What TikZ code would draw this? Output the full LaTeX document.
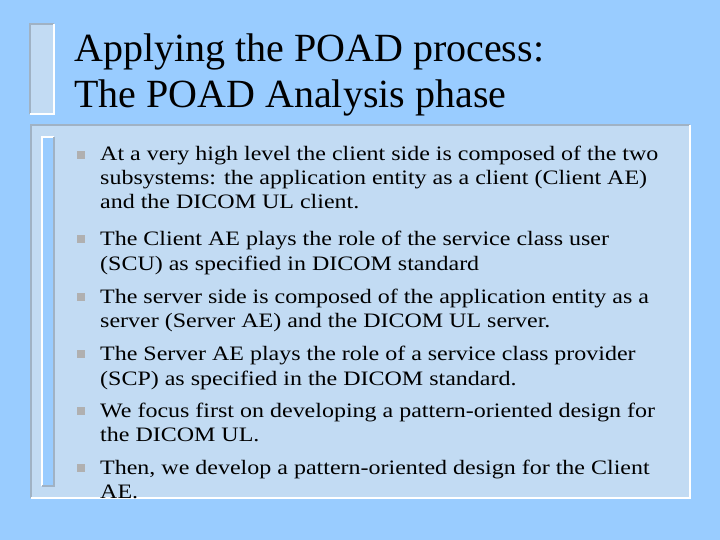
\documentclass[tikz,border=0pt]{standalone}
\usepackage{fontspec}
\setmainfont{Liberation Serif}
\definecolor{bg}{RGB}{153,204,255}
\definecolor{boxc}{RGB}{194,219,243}
\definecolor{edge}{RGB}{160,178,196}
\definecolor{bul}{RGB}{176,176,176}
\newcommand{\bodyline}[1]{\scalebox{1.17}[1]{#1}}
\begin{document}
\begin{tikzpicture}[x=1pt,y=-1pt,
  tl/.style={anchor=base west,inner sep=0pt,font=\fontsize{40}{46}\selectfont},
  bl/.style={anchor=base west,inner sep=0pt,font=\fontsize{20.5}{23}\selectfont},
  bu/.style={fill=bul,minimum size=8pt,inner sep=0pt}]
\fill[bg] (0,0) rectangle (720,540);
\useasboundingbox (0,0) rectangle (720,540);
% title bar
\fill[boxc] (30,24) rectangle (54,114);
\draw[edge,line width=2pt] (30,114) -- (30,24) -- (54,24);
\draw[white,line width=2pt] (54,24) -- (54,114) -- (30,114);
% content box
\fill[boxc] (31,125) rectangle (690,498);
\draw[edge,line width=2pt] (31,498) -- (31,125) -- (690,125);
\draw[white,line width=2pt] (690,125) -- (690,498) -- (31,498);
% inner bar
\fill[bg] (42,137) rectangle (54,486);
\draw[white,line width=2pt] (42,486) -- (42,137) -- (54,137);
\draw[edge,line width=2pt] (54,137) -- (54,486) -- (42,486);
\node[tl] (t1) at (74,62) {Applying the POAD process:};
\node[tl] (t2) at (74,108) {The POAD Analysis phase};
\foreach \y/\n in {155/b1,239/b2,297/b3,354/b4,411/b5,468/b6}{\node[bu] (\n) at (80.5,\y) {};}
\node[bl] (l1) at (100,161) {\bodyline{At a very high level the client side is composed of the two}};
\node[bl] (l2) at (100,185) {\bodyline{subsystems: the application entity as a client (Client AE)}};
\node[bl] (l3) at (100,209) {\bodyline{and the DICOM UL client.}};
\node[bl] (l4) at (100,245) {\bodyline{The Client AE plays the role of the service class user}};
\node[bl] (l5) at (100,270) {\bodyline{(SCU) as specified in DICOM standard}};
\node[bl] (l6) at (100,303) {\bodyline{The server side is composed of the application entity as a}};
\node[bl] (l7) at (100,327) {\bodyline{server (Server AE) and the DICOM UL server.}};
\node[bl] (l8) at (100,360) {\bodyline{The Server AE plays the role of a service class provider}};
\node[bl] (l9) at (100,385) {\bodyline{(SCP) as specified in the DICOM standard.}};
\node[bl] (l10) at (100,417) {\bodyline{We focus first on developing a pattern-oriented design for}};
\node[bl] (l11) at (100,441) {\bodyline{the DICOM UL.}};
\node[bl] (l12) at (100,474) {\bodyline{Then, we develop a pattern-oriented design for the Client}};
\node[bl] (l13) at (100,498) {\bodyline{AE.}};
\end{tikzpicture}
\end{document}
